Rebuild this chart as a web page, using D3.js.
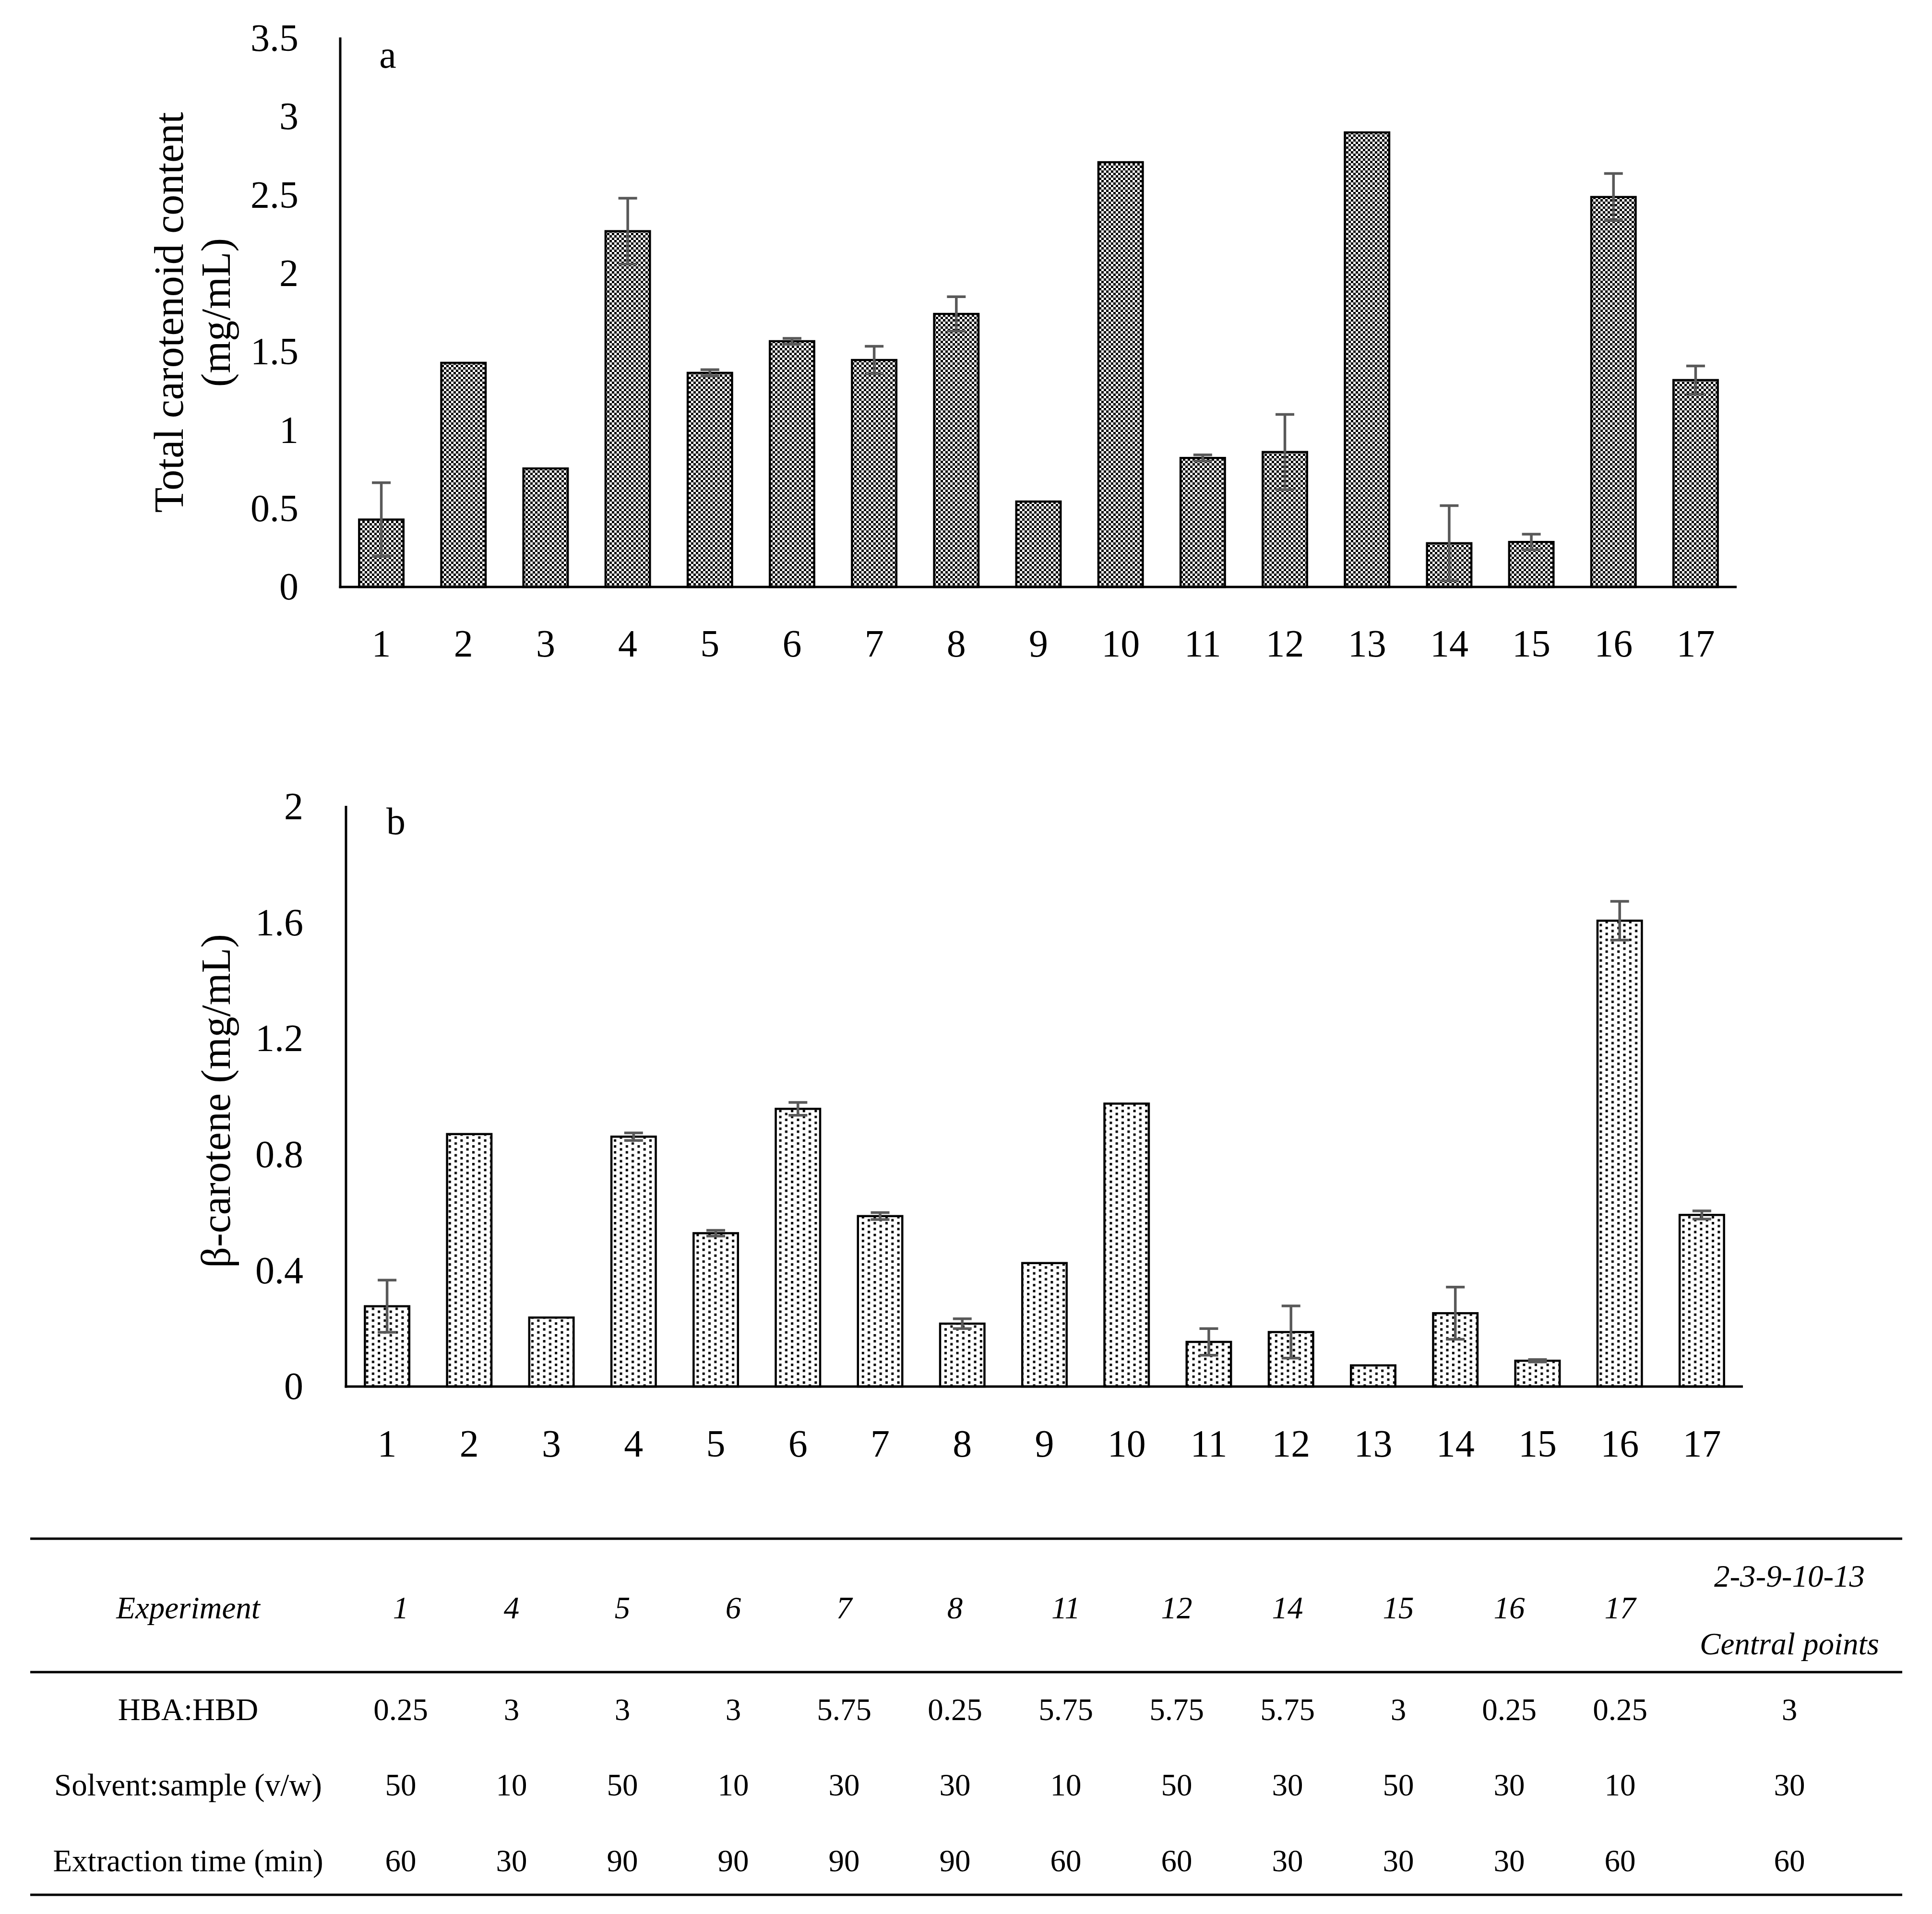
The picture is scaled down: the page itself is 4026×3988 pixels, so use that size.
<!DOCTYPE html>
<html>
<head>
<meta charset="utf-8">
<script src="https://cdn.jsdelivr.net/npm/d3@7"></script>
<style>
  html, body { margin: 0; padding: 0; background: #fff; }
  svg { display: block; }
  text { font-family: "Liberation Serif", "Times New Roman", serif; fill: #000; }
</style>
</head>
<body>
<script>
// ---------- data ----------
const experiments = ["1","2","3","4","5","6","7","8","9","10","11","12","13","14","15","16","17"];
const totalCarotenoid = [0.43, 1.43, 0.756, 2.27, 1.366, 1.568, 1.448, 1.742, 0.545, 2.71, 0.823, 0.861, 2.90, 0.279, 0.287, 2.488, 1.32];
const totalCarotenoidErr = [0.235, 0, 0, 0.21, 0.02, 0.018, 0.088, 0.11, 0, 0, 0.02, 0.24, 0, 0.24, 0.05, 0.15, 0.09];
const betaCarotene = [0.277, 0.871, 0.238, 0.862, 0.529, 0.958, 0.588, 0.217, 0.426, 0.976, 0.154, 0.188, 0.073, 0.253, 0.089, 1.607, 0.592];
const betaCaroteneErr = [0.09, 0, 0, 0.013, 0.01, 0.022, 0.012, 0.017, 0, 0, 0.046, 0.09, 0, 0.09, 0.004, 0.067, 0.014];
const ticksA = [0, 0.5, 1, 1.5, 2, 2.5, 3, 3.5];
const ticksB = [0, 0.4, 0.8, 1.2, 1.6, 2];

const tableCols = ["1","4","5","6","7","8","11","12","14","15","16","17"];
const hbaHbd = ["0.25","3","3","3","5.75","0.25","5.75","5.75","5.75","3","0.25","0.25"];
const solventSample = ["50","10","50","10","30","30","10","50","30","50","30","10"];
const extractionTime = ["60","30","90","90","90","90","60","60","30","30","30","60"];
const centralLabel = ["2-3-9-10-13", "Central points"];
const centralValues = ["3", "30", "60"];
const rowLabels = ["HBA:HBD", "Solvent:sample (v/w)", "Extraction time (min)"];

// ---------- svg ----------
const W = 4026, H = 3988;
const svg = d3.select("body").append("svg").attr("width", W).attr("height", H);
svg.append("rect").attr("width", W).attr("height", H).attr("fill", "#fff");

const defs = svg.append("defs");
// checkerboard pattern (top chart)
const pc = defs.append("pattern").attr("id", "checker")
  .attr("patternUnits", "userSpaceOnUse").attr("width", 10).attr("height", 10);
pc.append("rect").attr("width", 10).attr("height", 10).attr("fill", "#fff");
pc.append("rect").attr("x", 0).attr("y", 0).attr("width", 5).attr("height", 5).attr("fill", "#000");
pc.append("rect").attr("x", 5).attr("y", 5).attr("width", 5).attr("height", 5).attr("fill", "#000");
// dotted pattern (bottom chart)
const pd = defs.append("pattern").attr("id", "dots")
  .attr("patternUnits", "userSpaceOnUse").attr("width", 24.6).attr("height", 12.3);
pd.append("rect").attr("width", 24.6).attr("height", 12.3).attr("fill", "#fff");
pd.append("rect").attr("x", 0).attr("y", 0).attr("width", 5).attr("height", 5).attr("fill", "#000");
pd.append("rect").attr("x", 12.3).attr("y", 6.15).attr("width", 5).attr("height", 5).attr("fill", "#000");

function drawChart(cfg) {
  const g = svg.append("g");
  const x = d3.scaleBand().domain(experiments).range([cfg.x0, cfg.x1])
    .paddingInner(0.46).paddingOuter(0.23);
  const y = d3.scaleLinear().domain([0, cfg.ymax]).range([cfg.yBase, cfg.yTop]);

  // bars
  g.selectAll("rect.bar").data(cfg.values).join("rect")
    .attr("class", "bar")
    .attr("x", (d, i) => x(experiments[i]))
    .attr("y", d => y(d))
    .attr("width", x.bandwidth())
    .attr("height", d => y(0) - y(d))
    .attr("fill", `url(#${cfg.pattern})`)
    .attr("stroke", "#000").attr("stroke-width", 4.5);

  // error bars
  const eb = cfg.values.map((v, i) => ({v, e: cfg.errs[i], c: experiments[i]})).filter(d => d.e > 0);
  const eg = g.selectAll("g.err").data(eb).join("g").attr("class", "err")
    .attr("stroke", "#595959").attr("stroke-width", 5.5).attr("fill", "none");
  const cx = d => x(d.c) + x.bandwidth() / 2;
  eg.append("line").attr("x1", cx).attr("x2", cx)
    .attr("y1", d => y(d.v - d.e)).attr("y2", d => y(d.v + d.e));
  eg.append("line").attr("x1", d => cx(d) - 19.5).attr("x2", d => cx(d) + 19.5)
    .attr("y1", d => y(d.v + d.e)).attr("y2", d => y(d.v + d.e));
  eg.append("line").attr("x1", d => cx(d) - 19.5).attr("x2", d => cx(d) + 19.5)
    .attr("y1", d => y(d.v - d.e)).attr("y2", d => y(d.v - d.e));

  // y axis
  const ya = d3.axisLeft(y).tickValues(cfg.ticks).tickSize(0).tickPadding(cfg.x0 - cfg.tickRight)
    .tickFormat(d3.format("~g"));
  const yg = g.append("g").attr("transform", `translate(${cfg.x0},0)`).call(ya);
  yg.select(".domain").remove();
  yg.selectAll("text").attr("font-size", 80).attr("font-family", "Liberation Serif").attr("fill", "#000");
  g.append("line").attr("x1", cfg.x0).attr("x2", cfg.x0).attr("y1", cfg.yTop - 2).attr("y2", cfg.yBase + 2.5)
    .attr("stroke", "#000").attr("stroke-width", 5);

  // x axis
  const xa = d3.axisBottom(x).tickSize(0).tickPadding(cfg.xLabelY - cfg.yBase - 28);
  const xg = g.append("g").attr("transform", `translate(0,${cfg.yBase})`).call(xa);
  xg.select(".domain").remove();
  xg.selectAll("text").attr("font-size", 80).attr("font-family", "Liberation Serif").attr("fill", "#000");
  g.append("line").attr("x1", cfg.x0 - 2.5).attr("x2", cfg.x1).attr("y1", cfg.yBase).attr("y2", cfg.yBase)
    .attr("stroke", "#000").attr("stroke-width", 5);

  // panel letter
  g.append("text").attr("x", cfg.letterX).attr("y", cfg.letterY)
    .attr("text-anchor", "middle").attr("dominant-baseline", "central")
    .attr("font-size", 80).text(cfg.letter);

  // y title
  cfg.title.forEach((t, i) => {
    g.append("text")
      .attr("transform", `translate(${cfg.titleX[i]},${cfg.titleY}) rotate(-90)`)
      .attr("text-anchor", "middle").attr("font-size", 86).text(t);
  });
}

drawChart({
  values: totalCarotenoid, errs: totalCarotenoidErr, pattern: "checker",
  x0: 709, x1: 3619, yBase: 1223, yTop: 80, ymax: 3.5, ticks: ticksA,
  tickRight: 622, xLabelY: 1339, letter: "a", letterX: 808, letterY: 114,
  title: ["Total carotenoid content", "(mg/mL)"], titleX: [381, 479], titleY: 651
});

drawChart({
  values: betaCarotene, errs: betaCaroteneErr, pattern: "dots",
  x0: 721, x1: 3632, yBase: 2889, yTop: 1681, ymax: 2, ticks: ticksB,
  tickRight: 632, xLabelY: 3006, letter: "b", letterX: 825, letterY: 1711,
  title: ["β-carotene (mg/mL)"], titleX: [479], titleY: 2294
});

// ---------- table ----------
const tg = svg.append("g");
const colX = d3.scalePoint().domain(tableCols).range([835, 3376]);
const centralX = 3729;
const labelX = 392;
const fs = 65;
[3206, 3484, 3948].forEach(yy => {
  tg.append("line").attr("x1", 63).attr("x2", 3964).attr("y1", yy).attr("y2", yy)
    .attr("stroke", "#000").attr("stroke-width", 5);
});
// header
tg.append("text").attr("x", labelX).attr("y", 3350).attr("text-anchor", "middle")
  .attr("dominant-baseline", "central").attr("font-style", "italic").attr("font-size", fs).text("Experiment");
tg.selectAll("text.hd").data(tableCols).join("text").attr("class", "hd")
  .attr("x", d => colX(d)).attr("y", 3350).attr("text-anchor", "middle")
  .attr("dominant-baseline", "central").attr("font-style", "italic").attr("font-size", fs).text(d => d);
tg.selectAll("text.cl").data(centralLabel).join("text").attr("class", "cl")
  .attr("x", centralX).attr("y", (d, i) => i === 0 ? 3284 : 3425).attr("text-anchor", "middle")
  .attr("dominant-baseline", "central").attr("font-style", "italic").attr("font-size", fs).text(d => d);
// rows
const rows = [hbaHbd, solventSample, extractionTime];
const rowY = [3562, 3719, 3877];
rows.forEach((vals, r) => {
  tg.append("text").attr("x", labelX).attr("y", rowY[r]).attr("text-anchor", "middle")
    .attr("dominant-baseline", "central").attr("font-size", fs).text(rowLabels[r]);
  tg.selectAll(`text.r${r}`).data(vals).join("text").attr("class", `r${r}`)
    .attr("x", (d, i) => colX(tableCols[i])).attr("y", rowY[r]).attr("text-anchor", "middle")
    .attr("dominant-baseline", "central").attr("font-size", fs).text(d => d);
  tg.append("text").attr("x", centralX).attr("y", rowY[r]).attr("text-anchor", "middle")
    .attr("dominant-baseline", "central").attr("font-size", fs).text(centralValues[r]);
});
</script>
</body>
</html>
